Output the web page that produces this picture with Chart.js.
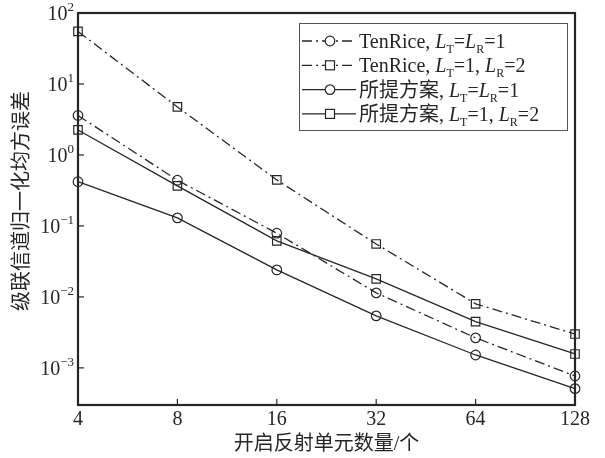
<!DOCTYPE html>
<html>
<head>
<meta charset="utf-8">
<script src="https://cdn.jsdelivr.net/npm/chart.js@4"></script>
<style>
  body { margin: 0; background: #fff; }
</style>
</head>
<body>
<canvas id="mseChart" width="605" height="458"></canvas>
<script>
// values
const elementCounts = [4, 8, 16, 32, 64, 128];
const tenRiceL11 = [3.6, 0.44, 0.079, 0.0114, 0.00265, 0.00077];
const tenRiceL12 = [55, 4.75, 0.445, 0.0557, 0.0080, 0.0030];
const proposedL11 = [0.42, 0.13, 0.024, 0.0054, 0.00152, 0.00051];
const proposedL12 = [2.25, 0.366, 0.0615, 0.018, 0.00448, 0.00157];
const yTickValues = [1e-3, 1e-2, 1e-1, 1, 10, 100];
const yTickExponents = ["\u22123", "\u22122", "\u22121", "0", "1", "2"];
const seriesNames = ["TenRice", "TenRice", "所提方案", "所提方案"];
const seriesParams = ["LT=LR=1", "LT=1,LR=2", "LT=LR=1", "LT=1,LR=2"];
const yTitle = "级联信道归一化均方误差";
const xTitle = "开启反射单元数量/个";

const INK = "#262626";
const SERIF = "'Liberation Serif', 'Noto Sans CJK SC', serif";
const dashDot = [10, 4, 2, 4];

function toPoints(vals) {
  return elementCounts.map((x, i) => ({ x: x, y: vals[i] }));
}

function makeSet(name, vals, marker, dashed) {
  return {
    label: name,
    data: toPoints(vals),
    borderColor: INK,
    borderWidth: 1.3,
    borderDash: dashed ? dashDot : [],
    pointStyle: marker,
    pointRadius: marker === "rect" ? 6 : 4.8,
    pointBorderWidth: 1.2,
    pointBorderColor: INK,
    pointBackgroundColor: "rgba(255,255,255,0)",
    fill: false,
    tension: 0,
    clip: false
  };
}

// rich text parts with italic L and subscripts T / R
function paramParts(name, p) {
  const parts = [[name + ", ", "n"]];
  if (p === "LT=LR=1") {
    parts.push(["L", "i"], ["T", "s"], ["=", "n"], ["L", "i"], ["R", "s"], ["=1", "n"]);
  } else {
    parts.push(["L", "i"], ["T", "s"], ["=1, ", "n"], ["L", "i"], ["R", "s"], ["=2", "n"]);
  }
  return parts;
}

function drawRich(ctx, x, y, parts) {
  ctx.textBaseline = "alphabetic";
  ctx.textAlign = "left";
  parts.forEach(([t, k]) => {
    if (k === "s") {
      ctx.font = "12px " + SERIF;
      ctx.fillText(t, x, y + 5);
    } else {
      ctx.font = (k === "i" ? "italic " : "") + "20px " + SERIF;
      ctx.fillText(t, x, y);
    }
    x += ctx.measureText(t).width;
  });
}

const framePlugin = {
  id: "frame",
  afterDraw(chart) {
    const ctx = chart.ctx;
    const a = chart.chartArea;
    const xs = chart.scales.x, ys = chart.scales.y;
    ctx.save();
    ctx.strokeStyle = INK;
    ctx.fillStyle = INK;
    ctx.lineWidth = 2.2;
    ctx.setLineDash([]);
    ctx.strokeRect(a.left, a.top, a.right - a.left, a.bottom - a.top);

    // inward ticks
    ctx.lineWidth = 1.2;
    elementCounts.forEach(v => {
      const px = xs.getPixelForValue(v);
      ctx.beginPath(); ctx.moveTo(px, a.bottom); ctx.lineTo(px, a.bottom - 6); ctx.stroke();
    });
    yTickValues.forEach((v, i) => {
      const py = ys.getPixelForValue(v);
      ctx.beginPath(); ctx.moveTo(a.left, py); ctx.lineTo(a.left + 6, py); ctx.stroke();
      // 10^n labels
      ctx.font = "20px " + SERIF;
      const wBase = ctx.measureText("10").width;
      ctx.font = "13px " + SERIF;
      const wExp = ctx.measureText(yTickExponents[i]).width;
      const right = a.left - 4;
      ctx.textBaseline = "alphabetic";
      ctx.textAlign = "left";
      ctx.font = "20px " + SERIF;
      ctx.fillText("10", right - wExp - wBase, py + 7);
      ctx.font = "13px " + SERIF;
      ctx.fillText(yTickExponents[i], right - wExp, py - 2);
    });

    // y axis title, rotated
    ctx.save();
    ctx.translate(23, 201);
    ctx.rotate(-Math.PI / 2);
    ctx.textAlign = "center";
    ctx.textBaseline = "middle";
    ctx.font = "20px " + SERIF;
    ctx.fillText(yTitle, 0, 0);
    ctx.restore();

    // legend box
    const bx = 299, by = 23, bw = 268, bh = 107;
    ctx.fillStyle = "#fff";
    ctx.fillRect(bx, by, bw, bh);
    ctx.strokeStyle = "#555";
    ctx.lineWidth = 1;
    ctx.strokeRect(bx + 0.5, by + 0.5, bw, bh);
    chart.data.datasets.forEach((ds, i) => {
      const ry = 41 + i * 24.3;
      ctx.strokeStyle = INK;
      ctx.lineWidth = 1.3;
      ctx.setLineDash(ds.borderDash);
      ctx.beginPath(); ctx.moveTo(302, ry); ctx.lineTo(356, ry); ctx.stroke();
      ctx.setLineDash([]);
      ctx.lineWidth = 1.2;
      ctx.fillStyle = "#fff";
      if (ds.pointStyle === "rect") {
        ctx.fillRect(325.5, ry - 4.5, 9, 9);
        ctx.strokeRect(325.5, ry - 4.5, 9, 9);
      } else {
        ctx.beginPath(); ctx.arc(330, ry, 4.8, 0, Math.PI * 2); ctx.fill(); ctx.stroke();
      }
      ctx.fillStyle = INK;
      drawRich(ctx, 359, ry + 7, paramParts(seriesNames[i], seriesParams[i]));
    });
    ctx.restore();
  }
};

new Chart(document.getElementById("mseChart").getContext("2d"), {
  type: "line",
  data: {
    datasets: [
      makeSet("TenRice, LT=LR=1", tenRiceL11, "circle", true),
      makeSet("TenRice, LT=1, LR=2", tenRiceL12, "rect", true),
      makeSet("所提方案, LT=LR=1", proposedL11, "circle", false),
      makeSet("所提方案, LT=1, LR=2", proposedL12, "rect", false)
    ]
  },
  options: {
    responsive: false,
    animation: false,
    layout: { padding: { left: 0, right: 30, top: 13, bottom: 0 } },
    plugins: {
      legend: { display: false },
      tooltip: { enabled: false }
    },
    scales: {
      x: {
        type: "logarithmic",
        min: 4,
        max: 128,
        afterBuildTicks: s => { s.ticks = elementCounts.map(v => ({ value: v })); },
        afterFit: s => { s.height = 53; },
        grid: { display: false, drawTicks: false },
        border: { display: false },
        ticks: {
          color: INK,
          padding: 3,
          maxRotation: 0,
          autoSkip: false,
          font: { family: SERIF, size: 20 },
          callback: v => String(v)
        },
        title: {
          display: true,
          text: xTitle,
          color: INK,
          font: { family: SERIF, size: 20 },
          padding: { top: 0, bottom: 1 }
        }
      },
      y: {
        type: "logarithmic",
        min: 3e-4,
        max: 100,
        afterBuildTicks: s => { s.ticks = yTickValues.map(v => ({ value: v })); },
        afterFit: s => { s.width = 78; },
        grid: { display: false, drawTicks: false },
        border: { display: false },
        ticks: { display: false },
        title: { display: false }
      }
    }
  },
  plugins: [framePlugin]
});
</script>
</body>
</html>
